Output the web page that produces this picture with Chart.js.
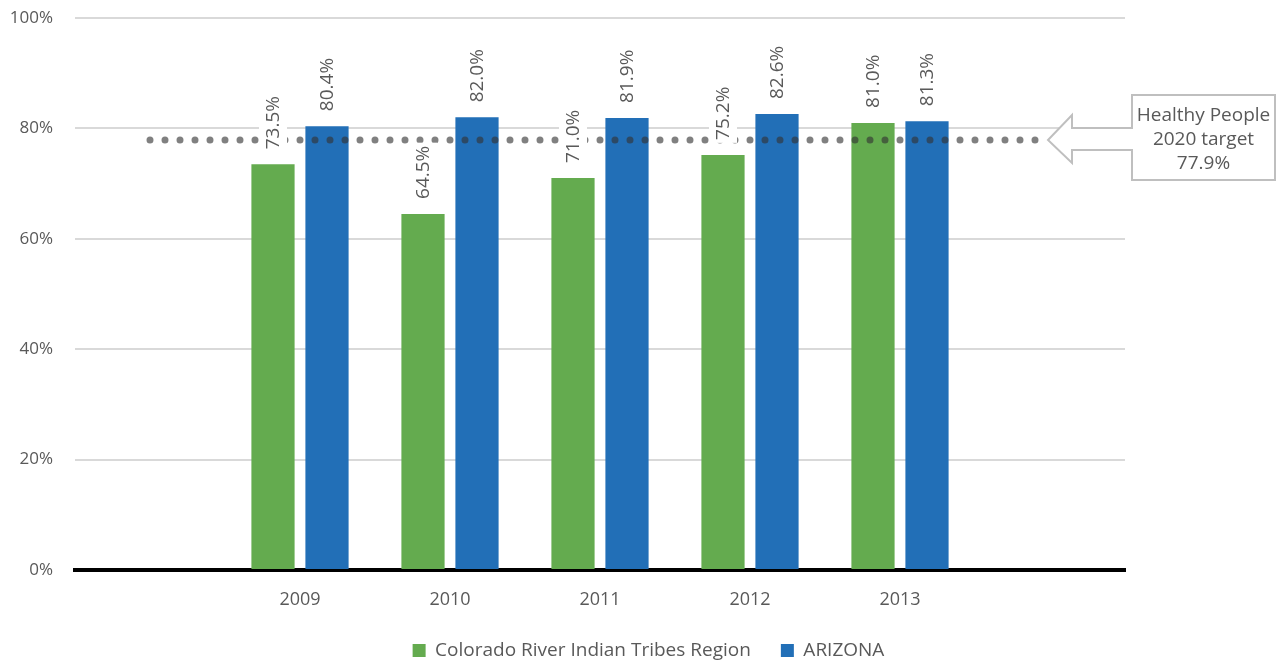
<!DOCTYPE html>
<html>
<head>
<meta charset="utf-8">
<script src="https://cdn.jsdelivr.net/npm/chart.js@4.4.1/dist/chart.umd.min.js"></script>
<style>
  html, body { margin: 0; padding: 0; background: #fff; }
  #wrap { width: 1277px; height: 665px; position: relative; }
</style>
</head>
<body>
<div id="wrap"><canvas id="chart"></canvas></div>
<script>
// ========================================
// データ
// ========================================
const years = ['', '2009', '2010', '2011', '2012', '2013', ''];
const regionValues = [null, 73.5, 64.5, 71.0, 75.2, 81.0, null];
const arizonaValues = [null, 80.4, 82.0, 81.9, 82.6, 81.3, null];
const targetValue = 77.9;
const targetLine = [77.9, 77.9, 77.9, 77.9, 77.9, 77.9, 77.9];
const calloutLines = ['Healthy People', '2020 target', '77.9%'];
const yTicks = [0, 20, 40, 60, 80, 100];

const GREEN = '#64AB4F';
const BLUE = '#226FB7';
const TEXT = '#595959';
const FONT = "'Open Sans', sans-serif";

Chart.defaults.font.family = FONT;
Chart.defaults.color = TEXT;

// ========================================
// プラグイン
// ========================================

/**
 * 凡例の高さを固定し、キャンバス中央寄りへずらす
 */
const legendFitPlugin = {
    id: 'legendFit',
    beforeLayout(chart) {
        const legend = chart.legend;
        if (!legend || legend._fitPatched) return;
        const fit = legend.fit;
        legend.fit = function () {
            fit.call(this);
            this.height = 54;
        };
        legend._fitPatched = true;
    },
    afterLayout(chart) {
        const legend = chart.legend;
        if (!legend) return;
        legend.left += 86;
        legend.right += 86;
    }
};

/**
 * 棒の上に縦書きの値ラベル（白背景つき）
 */
const barLabelPlugin = {
    id: 'barLabels',
    afterDatasetsDraw(chart) {
        const ctx = chart.ctx;
        ctx.save();
        ctx.font = '19px ' + FONT;
        chart.data.datasets.forEach((ds, i) => {
            if (ds.type === 'line') return;
            const meta = chart.getDatasetMeta(i);
            meta.data.forEach((bar, j) => {
                const v = ds.data[j];
                if (v === null || v === undefined) return;
                const text = v.toFixed(1) + '%';
                const w = ctx.measureText(text).width;
                const x = bar.x;
                const y = bar.y - 15;
                ctx.save();
                ctx.translate(x, y);
                ctx.rotate(-Math.PI / 2);
                ctx.fillStyle = '#fff';
                ctx.fillRect(-3, -14, w + 6, 28);
                ctx.fillStyle = TEXT;
                ctx.textAlign = 'left';
                ctx.textBaseline = 'middle';
                ctx.fillText(text, 0, 1);
                ctx.restore();
            });
        });
        ctx.restore();
    }
};

/**
 * 目標値の吹き出し（矢印つき）
 */
const calloutPlugin = {
    id: 'callout',
    afterDraw(chart) {
        const ctx = chart.ctx;
        const xs = chart.scales.x;
        const ys = chart.scales.y;
        const tipX = xs.getPixelForValue(6) - 2;
        const tipY = ys.getPixelForValue(targetValue);
        const headX = tipX + 24;
        const boxL = tipX + 84;
        const boxR = boxL + 143;
        const boxT = tipY - 45;
        const boxB = tipY + 40;

        ctx.save();
        ctx.beginPath();
        ctx.moveTo(boxL, boxT);
        ctx.lineTo(boxR, boxT);
        ctx.lineTo(boxR, boxB);
        ctx.lineTo(boxL, boxB);
        ctx.lineTo(boxL, tipY + 10);
        ctx.lineTo(headX, tipY + 10);
        ctx.lineTo(headX, tipY + 23);
        ctx.lineTo(tipX, tipY);
        ctx.lineTo(headX, tipY - 25);
        ctx.lineTo(headX, tipY - 12);
        ctx.lineTo(boxL, tipY - 12);
        ctx.closePath();
        ctx.fillStyle = '#fff';
        ctx.fill();
        ctx.strokeStyle = '#BFBFBF';
        ctx.lineWidth = 2;
        ctx.stroke();

        ctx.fillStyle = TEXT;
        ctx.font = '19px ' + FONT;
        ctx.textAlign = 'center';
        ctx.textBaseline = 'middle';
        const cx = (boxL + boxR) / 2;
        calloutLines.forEach((line, i) => {
            ctx.fillText(line, cx, tipY - 24 + i * 24);
        });
        ctx.restore();
    }
};

// ========================================
// チャート
// ========================================
const ctx = document.getElementById('chart').getContext('2d');
new Chart(ctx, {
    type: 'bar',
    data: {
        labels: years,
        datasets: [
            {
                type: 'line',
                label: 'Healthy People 2020 target',
                data: targetLine,
                borderColor: 'rgba(50, 50, 50, 0.62)',
                borderWidth: 7,
                borderDash: [0, 15],
                borderCapStyle: 'round',
                pointRadius: 0,
                fill: false,
                order: 0
            },
            {
                label: 'Colorado River Indian Tribes Region',
                data: regionValues,
                backgroundColor: GREEN,
                categoryPercentage: 0.72,
                barPercentage: 0.8,
                order: 1
            },
            {
                label: 'ARIZONA',
                data: arizonaValues,
                backgroundColor: BLUE,
                categoryPercentage: 0.72,
                barPercentage: 0.8,
                order: 1
            }
        ]
    },
    options: {
        responsive: true,
        maintainAspectRatio: false,
        animation: false,
        layout: {
            padding: { top: 18, right: 152, bottom: 0, left: 0 }
        },
        plugins: {
            legend: {
                position: 'bottom',
                labels: {
                    filter: item => item.text !== 'Healthy People 2020 target',
                    boxWidth: 13,
                    boxHeight: 13,
                    padding: 30,
                    color: TEXT,
                    font: { size: 19 }
                }
            },
            tooltip: { enabled: false }
        },
        scales: {
            x: {
                grid: { display: false, drawTicks: false },
                border: { display: true, color: '#000', width: 4 },
                ticks: { padding: 19, color: TEXT, font: { size: 18 } },
                afterFit: scale => { scale.height = 41; }
            },
            y: {
                min: 0,
                max: 100,
                afterBuildTicks: scale => {
                    scale.ticks = yTicks.map(v => ({ value: v }));
                },
                afterFit: scale => {
                    scale.width = 75;
                    scale.paddingTop = 0;
                    scale.paddingBottom = 0;
                },
                grid: {
                    drawTicks: false,
                    color: c => c.tick && c.tick.value === 0 ? 'rgba(0,0,0,0)' : '#D9D9D9',
                    lineWidth: 2
                },
                border: { display: false },
                ticks: {
                    padding: 22,
                    color: TEXT,
                    font: { size: 17 },
                    callback: v => v + '%'
                }
            }
        }
    },
    plugins: [legendFitPlugin, barLabelPlugin, calloutPlugin]
});
</script>
</body>
</html>
